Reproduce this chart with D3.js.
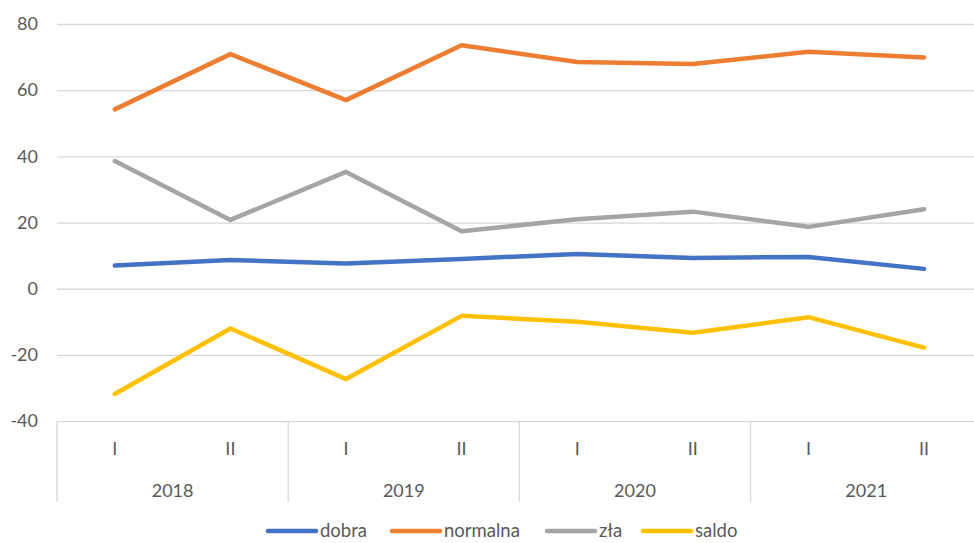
<!DOCTYPE html>
<html lang="pl">
<head>
    <meta charset="UTF-8">
    <title>dobra / normalna / zła / saldo</title>
    <script src="https://cdn.jsdelivr.net/npm/d3@7"></script>
    <style>
        body { margin: 0; background: #fff; }
        text { font-family: Lato, "Noto Sans", sans-serif; fill: #595959; }
    </style>
</head>
<body>
<script>
    const years = ['2018', '2019', '2020', '2021']
    const halves = ['I', 'II']
    const categories = years.flatMap(y => halves.map(h => y + '-' + h))
    const yTicks = [-40, -20, 0, 20, 40, 60, 80]

    const dobra = [7, 8.7, 7.6, 9, 10.5, 9.3, 9.6, 6]
    const normalna = [54.2, 70.9, 57, 73.6, 68.5, 67.9, 71.6, 69.9]
    const zla = [38.6, 20.8, 35.3, 17.4, 21, 23.3, 18.7, 24]
    const saldo = [-31.8, -12, -27.3, -8.2, -10, -13.3, -8.6, -17.8]

    const series = [
        {name: 'dobra', values: dobra, color: '#4472C4'},
        {name: 'normalna', values: normalna, color: '#ED7D31'},
        {name: 'zła', values: zla, color: '#A5A5A5'},
        {name: 'saldo', values: saldo, color: '#FFC000'}
    ]

    const [width, height] = [974, 543]
    const left = 57
    const x = d3.scaleBand().domain(categories).range([left, left + 8 * 115.6])
    const y = d3.scaleLinear().domain([-40, 80]).range([421.1, 24])

    const svg = d3.select('body').append('svg')
        .attr('width', width)
        .attr('height', height)

    // gridlines + y labels (plain hyphen, like the original)
    const yAxis = d3.axisLeft(y).tickValues(yTicks)
        .tickFormat(d => String(d))
        .tickSize(-(width - left)).tickPadding(19)
    svg.append('g')
        .attr('transform', `translate(${left},0)`)
        .call(yAxis)
        .call(g => g.select('.domain').remove())
        .call(g => g.selectAll('line').attr('stroke', '#d9d9d9').attr('stroke-width', 1.3))
        .call(g => g.selectAll('text').attr('font-size', 18).attr('fill', '#595959')
            .style('font-family', 'Lato, "Noto Sans", sans-serif'))

    // category axis: half-year labels, years, separators
    const axisG = svg.append('g')
    axisG.selectAll('text.half').data(categories).enter().append('text')
        .attr('class', 'half')
        .attr('x', d => x(d) + x.bandwidth() / 2)
        .attr('y', 455)
        .attr('text-anchor', 'middle')
        .attr('font-size', 18)
        .text(d => d.split('-')[1])
    axisG.selectAll('text.year').data(years).enter().append('text')
        .attr('class', 'year')
        .attr('x', d => x(d + '-I') + x.bandwidth())
        .attr('y', 497)
        .attr('text-anchor', 'middle')
        .attr('font-size', 18)
        .text(d => d)
    axisG.selectAll('line.sep').data(years).enter().append('line')
        .attr('class', 'sep')
        .attr('x1', d => x(d + '-I'))
        .attr('x2', d => x(d + '-I'))
        .attr('y1', y(-40))
        .attr('y2', 502)
        .attr('stroke', '#d9d9d9')
        .attr('stroke-width', 1.3)

    // lines
    const line = d3.line()
        .x((d, i) => x(categories[i]) + x.bandwidth() / 2)
        .y(d => y(d))
    svg.append('g').selectAll('path.line').data(series).enter().append('path')
        .attr('class', 'line')
        .attr('fill', 'none')
        .attr('stroke', d => d.color)
        .attr('stroke-width', 4.5)
        .attr('stroke-linejoin', 'round')
        .attr('stroke-linecap', 'round')
        .attr('d', d => line(d.values))

    // legend
    const legendX = [268, 392, 547, 643]
    const legend = svg.append('g').selectAll('g').data(series).enter().append('g')
        .attr('transform', (d, i) => `translate(${legendX[i]},531)`)
    legend.append('line')
        .attr('x1', 0).attr('x2', 48)
        .attr('stroke', d => d.color)
        .attr('stroke-width', 4.5)
        .attr('stroke-linecap', 'round')
    legend.append('text')
        .attr('x', 52)
        .attr('dy', '0.35em')
        .attr('font-size', 18.5)
        .text(d => d.name)
</script>
</body>
</html>
